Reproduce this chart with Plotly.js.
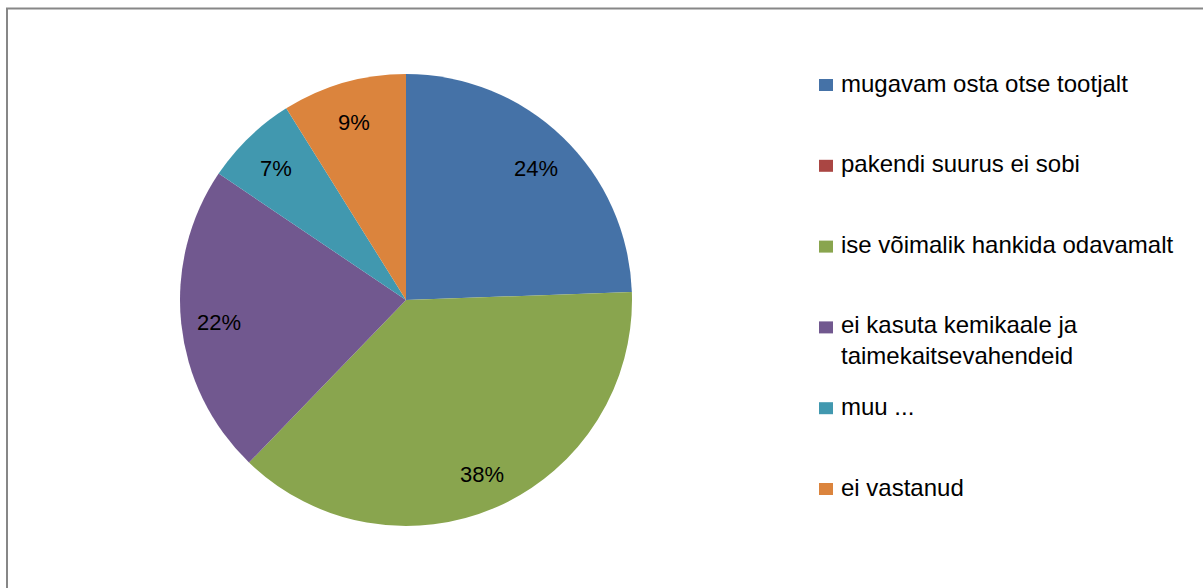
<!DOCTYPE html>
<html>
<head>
<meta charset="utf-8">
<script src="https://cdn.plot.ly/plotly-3.0.1.min.js"></script>
<style>html,body{margin:0;padding:0;background:#fff;}#chart{width:1203px;height:588px;}</style>
</head>
<body>
<div id="chart"></div>
<script>
// Data
var categories = [
  "mugavam osta otse tootjalt",
  "pakendi suurus ei sobi",
  "ise võimalik hankida odavamalt",
  "ei kasuta kemikaale ja taimekaitsevahendeid",
  "muu ...",
  "ei vastanud"
];
var counts = [11, 0, 17, 10, 3, 4];
var colors = ["#4572A7", "#AA4643", "#89A54E", "#71588F", "#4198AF", "#DB843D"];

// Layout geometry (pixels)
var W = 1203, H = 588;
var cx = 406, cy = 300, R = 226;
var labelFrac = 0.83;
var FONT = "Liberation Sans, Arial, sans-serif";

var total = counts.reduce(function(a, b){ return a + b; }, 0);

var annotations = [];
var shapes = [];

// percentage labels on slices, placed along each slice's mid-angle
var cum = 0;
counts.forEach(function(v, i){
  var start = cum / total * 2 * Math.PI;
  cum += v;
  if (v === 0) return;
  var end = cum / total * 2 * Math.PI;
  var mid = (start + end) / 2;
  var px = cx + Math.sin(mid) * R * labelFrac;
  var py = cy - Math.cos(mid) * R * labelFrac + 3;
  annotations.push({
    xref: "paper", yref: "paper",
    x: px / W, y: 1 - py / H,
    xanchor: "center", yanchor: "middle",
    text: Math.round(v / total * 100) + "%",
    showarrow: false,
    font: {family: FONT, size: 22, color: "#000"}
  });
});

// legend (drawn with shapes + annotations)
function wrap(s, maxLen){
  if (s.length <= 32) return s;
  var words = s.split(" "), lines = [], cur = "";
  words.forEach(function(w){
    if ((cur + " " + w).trim().length > maxLen && cur) { lines.push(cur); cur = w; }
    else cur = (cur + " " + w).trim();
  });
  if (cur) lines.push(cur);
  return lines.join("<br>");
}
var legTop = 83, legStep = 80.8, lineH = 30;
categories.forEach(function(c, i){
  var txt = wrap(c, 24);
  var nLines = txt.split("<br>").length;
  var firstY = legTop + i * legStep;
  var centerY = firstY + (nLines - 1) * lineH / 2;
  annotations.push({
    xref: "paper", yref: "paper",
    x: 839 / W, y: 1 - centerY / H,
    xanchor: "left", yanchor: "middle", align: "left",
    text: txt, showarrow: false,
    font: {family: FONT, size: 24, color: "#000"}
  });
  shapes.push({
    type: "rect", xref: "paper", yref: "paper",
    x0: 819 / W, x1: 833 / W,
    y0: 1 - (firstY + 8) / H, y1: 1 - (firstY - 4) / H,
    fillcolor: colors[i], line: {width: 0}
  });
});

// outer chart border
shapes.push({
  type: "rect", xref: "paper", yref: "paper",
  x0: 7 / W, x1: 1.02, y0: -0.02, y1: 1 - 8.5 / H,
  line: {color: "#878787", width: 2}, fillcolor: "rgba(0,0,0,0)"
});

var trace = {
  type: "pie",
  labels: categories,
  values: counts,
  marker: {colors: colors, line: {width: 0}},
  sort: false,
  direction: "clockwise",
  rotation: 0,
  textinfo: "none",
  hoverinfo: "label+percent",
  showlegend: false,
  domain: {
    x: [(cx - R) / W, (cx + R) / W],
    y: [1 - (cy + R) / H, 1 - (cy - R) / H]
  }
};

var layout = {
  width: W, height: H,
  margin: {l: 0, r: 0, t: 0, b: 0},
  paper_bgcolor: "#fff",
  showlegend: false,
  annotations: annotations,
  shapes: shapes,
  font: {family: FONT}
};

Plotly.newPlot("chart", [trace], layout, {displayModeBar: false, staticPlot: true});
</script>
</body>
</html>
